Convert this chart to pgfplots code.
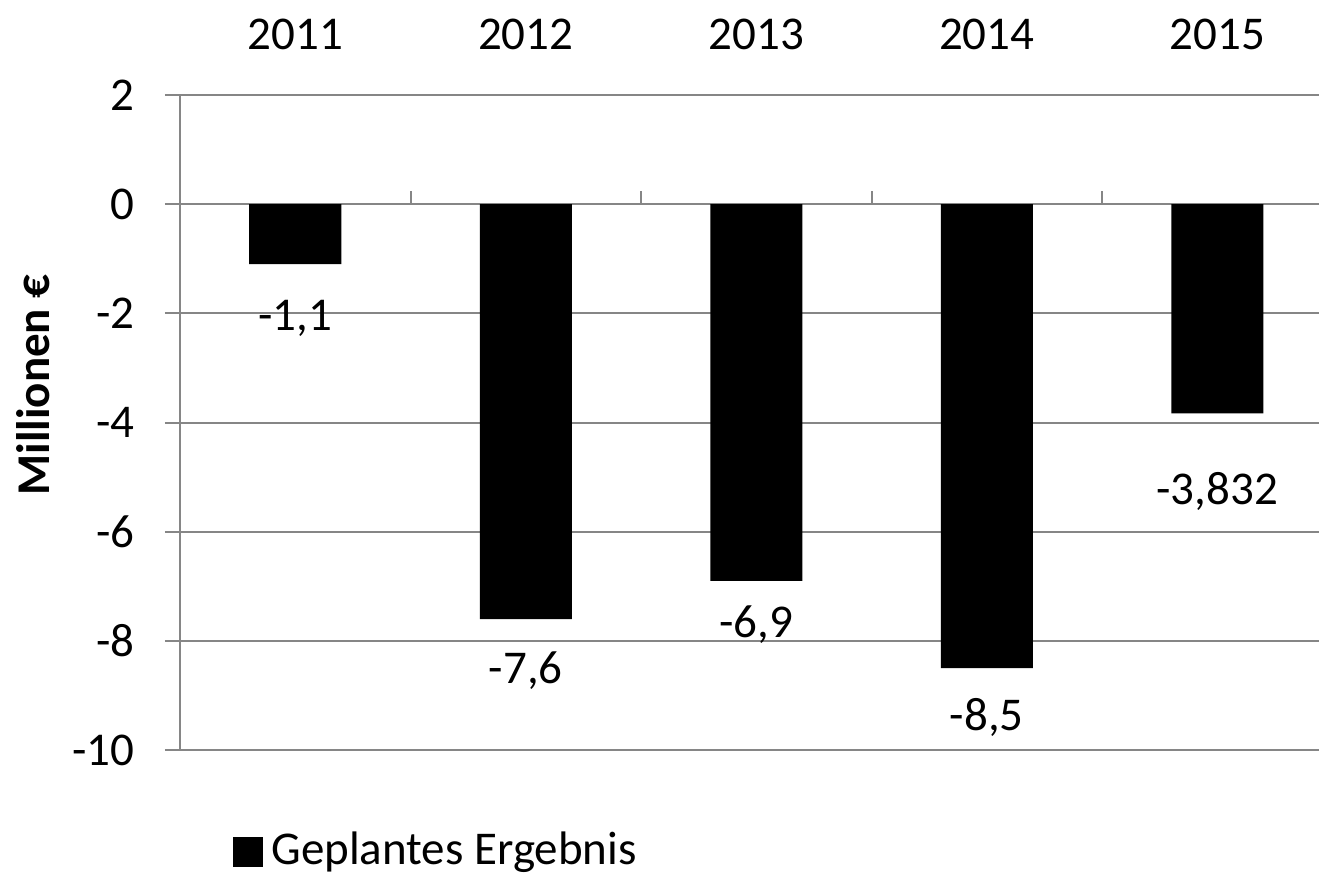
\documentclass[border=0pt]{standalone}
\usepackage{pgfplots}
\pgfplotsset{compat=1.18}
\usepackage{fontspec}
\setmainfont{Carlito}
\definecolor{gridgray}{HTML}{868686}
\begin{document}
\fontsize{23.5}{28}\selectfont
\begin{tikzpicture}
\path[use as bounding box] (0,0) rectangle (659.5pt,437pt);
\begin{axis}[
  at={(90pt,62pt)}, anchor=south west,
  scale only axis,
  width=576.25pt, height=327.5pt,
  xmin=-0.5, xmax=4.5,
  ymin=-10, ymax=2,
  axis x line*=top, axis y line*=left,
  axis line style={gridgray, line width=1pt},
  xtick={0,1,2,3,4},
  xticklabels={2011,2012,2013,2014,2015},
  major x tick style={draw=none},
  xticklabel style={anchor=base, yshift=15pt, inner sep=0pt},
  ytick={-10,-8,-6,-4,-2,0,2},
  yticklabels={-10,-8,-6,-4,-2,0,2},
  tick align=outside,
  major tick length=7.5pt,
  major y tick style={gridgray, line width=1pt},
  yticklabel style={anchor=east, inner sep=0pt, xshift=-15pt},
  ymajorgrids,
  grid style={gridgray, line width=1pt},
  tick label style={font=\fontsize{23.5}{28}\selectfont},
  legend style={draw=none, fill=none, at={(rel axis cs:0.046,-0.156)}, anchor=west,
    inner sep=0pt, font=\fontsize{23.5}{28}\selectfont},
  legend image code/.code={\fill[black] (0pt,-7.5pt) rectangle (15pt,7.5pt);},
  clip=false,
]
\addplot[ybar, bar width=46pt, bar shift=0pt, fill=black, draw=none] coordinates {
  (0,-1.1) (1,-7.6) (2,-6.9) (3,-8.5) (4,-3.832)
};
\addlegendentry{\hspace{2pt}Geplantes Ergebnis}
\addplot[draw=none, mark=none, forget plot, nodes near coords,
  point meta=explicit symbolic,
  every node near coord/.append style={anchor=center, black, inner sep=0pt,
    font=\fontsize{23.5}{28}\selectfont}] table[meta=lab] {
x y lab
0 -2.09 -1,1
1 -8.55 -7,6
2 -7.71 -6,9
3 -9.41 -8,5
4 -5.27 -3,832
};
\draw[gridgray, line width=1pt] (axis cs:-0.5,0) -- (axis cs:-0.5,0.25);
\draw[gridgray, line width=1pt] (axis cs:0.5,0) -- (axis cs:0.5,0.25);
\draw[gridgray, line width=1pt] (axis cs:1.5,0) -- (axis cs:1.5,0.25);
\draw[gridgray, line width=1pt] (axis cs:2.5,0) -- (axis cs:2.5,0.25);
\draw[gridgray, line width=1pt] (axis cs:3.5,0) -- (axis cs:3.5,0.25);
\end{axis}
\node[rotate=90, font=\bfseries\fontsize{23.5}{28}\selectfont] at (16.5pt,244.5pt) {Millionen €};
\end{tikzpicture}
\end{document}
